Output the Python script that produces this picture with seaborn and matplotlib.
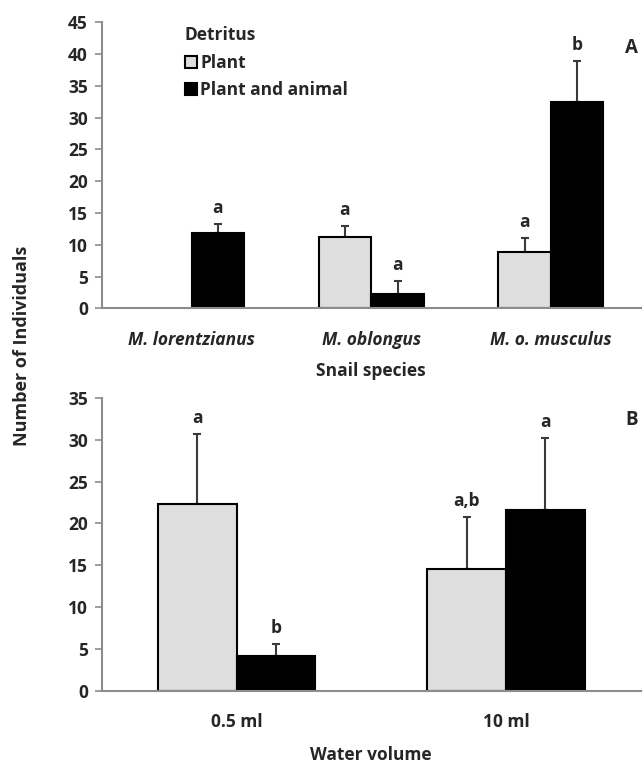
import pandas as pd
import seaborn as sns
import matplotlib.pyplot as plt

# panel A: snail species
species = ["M. lorentzianus", "M. oblongus", "M. o. musculus"]
plant_a = [None, 11.2, 8.9]
plant_a_err = [None, 1.8, 2.2]
animal_a = [11.8, 2.2, 32.5]
animal_a_err = [1.4, 2.1, 6.4]
letters_plant_a = [None, "a", "a"]
letters_animal_a = ["a", "a", "b"]

# panel B: water volume
volumes = ["0.5 ml", "10 ml"]
plant_b = [22.3, 14.6]
plant_b_err = [8.4, 6.2]
animal_b = [4.2, 21.6]
animal_b_err = [1.4, 8.6]
letters_plant_b = ["a", "a,b"]
letters_animal_b = ["b", "a"]

detritus = ["Plant", "Plant and animal"]
colors = {"Plant": "#dedede", "Plant and animal": "#000000"}


def make_df(cats, plant, plant_err, plant_lab, animal, animal_err, animal_lab):
    rows = []
    for c, v, e, l in zip(cats, plant, plant_err, plant_lab):
        if v is not None:
            rows.append((c, "Plant", v, e, l))
    for c, v, e, l in zip(cats, animal, animal_err, animal_lab):
        rows.append((c, "Plant and animal", v, e, l))
    return pd.DataFrame(rows, columns=["cat", "det", "val", "err", "lab"])


df_a = make_df(species, plant_a, plant_a_err, letters_plant_a,
               animal_a, animal_a_err, letters_animal_a)
df_b = make_df(volumes, plant_b, plant_b_err, letters_plant_b,
               animal_b, animal_b_err, letters_animal_b)

sns.set_style("white")
plt.rcParams['font.family'] = ['Open Sans', 'DejaVu Sans']
plt.rcParams['font.weight'] = 'bold'
FS = 12.5

fig = plt.figure(figsize=(6.44, 7.65), dpi=100)
ax1 = fig.add_axes([0.158, 0.597, 0.837, 0.374])
ax2 = fig.add_axes([0.158, 0.097, 0.837, 0.383])


def draw(ax, df, cats, ymax, letter):
    sns.barplot(data=df, x="cat", y="val", hue="det", order=cats,
                hue_order=detritus, palette=colors, edgecolor="black",
                linewidth=1.5, width=0.585, errorbar=None, ax=ax, zorder=2)
    bar_conts = list(ax.containers)
    for i, cont in enumerate(bar_conts):
        det = detritus[i]
        for bar in cont:
            xc = bar.get_x() + bar.get_width() / 2
            h = bar.get_height()
            cat = cats[int(round(xc))]
            row = df[(df["cat"] == cat) & (df["det"] == det)].iloc[0]
            ax.errorbar(xc, h, yerr=[[0], [row["err"]]], fmt="none",
                        ecolor="#3a3a3a", elinewidth=1.5, capsize=3,
                        capthick=1.5, zorder=1)
            ax.annotate(row["lab"], (xc, h + row["err"]), xytext=(0, 5),
                        textcoords="offset points", ha="center", va="bottom",
                        fontsize=FS, fontweight="bold")
    ax.set_ylim(0, ymax)
    ax.set_yticks(range(0, ymax + 1, 5))
    ax.set_xlim(-0.5, len(cats) - 0.5)
    sns.despine(ax=ax)
    for s in ["left", "bottom"]:
        ax.spines[s].set_color("#8c8c8c")
        ax.spines[s].set_linewidth(1.5)
    ax.tick_params(axis="y", length=5, width=1.2, color="#8c8c8c",
                   labelsize=FS, left=True, pad=5)
    ax.tick_params(axis="x", length=0, labelsize=FS, pad=16)
    for t in ax.get_xticklabels() + ax.get_yticklabels():
        t.set_fontweight("bold")
    ax.set_ylabel("")
    ax.text(0.983, 0.91 if letter == "A" else 0.925, letter,
            transform=ax.transAxes, ha="center", va="center",
            fontsize=13.5, fontweight="bold")


draw(ax1, df_a, species, 45, "A")
draw(ax2, df_b, volumes, 35, "B")

for t in ax1.get_xticklabels():
    t.set_fontstyle("italic")
ax1.set_xlabel("Snail species", fontsize=FS, fontweight="bold", labelpad=10)
ax2.set_xlabel("Water volume", fontsize=FS, fontweight="bold", labelpad=11)

ax2.get_legend().remove()
handles, labels = ax1.get_legend_handles_labels()
ax1.get_legend().remove()
ax1.legend(handles, labels, title="Detritus", loc="upper left",
           bbox_to_anchor=(0.125, 1.04), frameon=False,
           prop={"weight": "bold", "size": FS},
           title_fontproperties={"weight": "bold", "size": FS},
           handlelength=0.7, handleheight=0.7, handletextpad=0.2,
           labelspacing=0.55, alignment="left")

fig.text(0.034, 0.548, "Number of Individuals", rotation=90, ha="center",
         va="center", fontsize=FS + 0.5, fontweight="bold")

fig.savefig("out.png", dpi=100)
